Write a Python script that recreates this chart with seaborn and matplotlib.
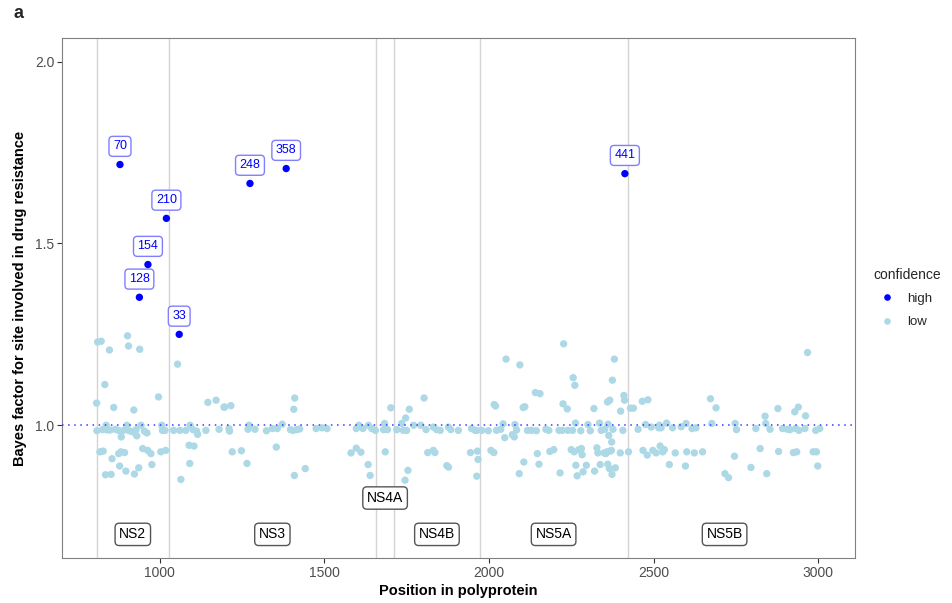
import matplotlib
matplotlib.use("Agg")
import matplotlib.pyplot as plt
import seaborn as sns
import pandas as pd

# ---------------- data ----------------
region_names = ["NS2", "NS3", "NS4A", "NS4B", "NS5A", "NS5B"]
region_start = [810, 1027, 1658, 1712, 1973, 2421]
region_end = [1026, 1657, 1711, 1972, 2420, 3011]
region_label_y = [0.7, 0.7, 0.8, 0.7, 0.7, 0.7]

high_pos = [879, 938, 964, 1020, 1059, 1274, 1384, 2413]
high_bf = [1.717, 1.352, 1.442, 1.569, 1.250, 1.665, 1.706, 1.692]
high_labels = ["70", "128", "154", "210", "33", "248", "358", "441"]

low_pos_ns2_ns3 = [
    811, 822, 902, 847, 905, 939, 1054, 833, 808, 860, 921, 996, 1146, 1171, 1195, 1197, 1216,
    837, 900, 943, 1006, 1092, 1271, 1372,
    809, 826, 840, 849, 865, 874, 885, 895, 907, 917, 928, 953, 961, 1008, 1016, 1042, 1061,
    1079, 1101, 1112, 1140, 1180, 1210, 1212, 1268, 1289, 1324, 1342, 1357,
    883, 930, 1115,
    818, 828, 875, 882, 893, 948, 963, 973, 1003, 1018, 1089, 1104, 1220, 1248, 1354,
    855, 878, 897, 936, 923, 976, 835, 852, 1091, 1265, 1064,
]
low_bf_ns2_ns3 = [
    1.229, 1.231, 1.246, 1.207, 1.218, 1.209, 1.168, 1.112, 1.061, 1.049, 1.042, 1.078, 1.063, 1.069, 1.050, 1.050, 1.054,
    1.000, 1.000, 1.000, 1.000, 1.000, 1.000, 1.003,
    0.985, 0.988, 0.987, 0.987, 0.989, 0.986, 0.984, 0.988, 0.985, 0.982, 0.988, 0.984, 0.979, 0.986, 0.986, 0.986, 0.986,
    0.986, 0.988, 0.984, 0.986, 0.989, 0.991, 0.984, 0.989, 0.989, 0.985, 0.991, 0.991,
    0.968, 0.971, 0.975,
    0.927, 0.929, 0.922, 0.927, 0.925, 0.936, 0.931, 0.922, 0.927, 0.931, 0.945, 0.943, 0.927, 0.930, 0.940,
    0.908, 0.888, 0.874, 0.883, 0.866, 0.892, 0.864, 0.865, 0.895, 0.895, 0.851,
]

low_pos_ns3_ns4 = [
    1410, 1407, 1397, 1405, 1417, 1425, 1475, 1493, 1508, 1597, 1605, 1617, 1634, 1644, 1655,
    1683, 1680, 1692, 1702, 1720, 1735, 1740, 1747, 1758, 1750, 1771, 1793, 1809, 1803, 1831,
    1841, 1852, 1877, 1884, 1907, 1947, 1958,
    1581, 1597, 1611, 1685, 1814, 1831, 1836, 1944, 1965, 1967, 1633, 1639, 1872, 1877, 1754,
    1745, 1442, 1409, 1963,
]
low_bf_ns3_ns4 = [
    1.075, 1.044, 0.988, 0.986, 0.988, 0.990, 0.991, 0.993, 0.991, 0.991, 1.000, 0.991, 1.000, 0.991, 0.986,
    1.005, 0.988, 0.988, 1.048, 0.988, 1.005, 0.986, 1.020, 1.044, 0.986, 1.000, 1.000, 0.988, 1.075, 0.995,
    0.988, 0.986, 0.995, 0.988, 0.986, 0.991, 0.986,
    0.924, 0.937, 0.926, 0.927, 0.925, 0.931, 0.925, 0.925, 0.929, 0.906, 0.892, 0.862, 0.889, 0.885, 0.876,
    0.849, 0.881, 0.862, 0.860,
]

low_pos_ns5a = [
    2227, 2052, 2094, 2381, 2256, 2261, 2375, 2141, 2155, 2016, 2020, 2104, 2109, 2225, 2238,
    2319, 2360, 2367, 2410, 2412, 2400, 2430, 2439, 2466, 2483,
    2043, 2079, 2263, 2301, 2336, 2362, 2476, 2518,
    1963, 1978, 1998, 2023, 2036, 2084, 2117, 2129, 2144, 2173, 2182, 2213, 2223, 2240, 2254,
    2279, 2308, 2341, 2352, 2377, 2407, 2453, 2493, 2516,
    2048, 2071, 2077, 2364, 2373,
    2006, 2015, 2147, 2185, 2197, 2250, 2259, 2273, 2281, 2283, 2328, 2331, 2350, 2358, 2369,
    2372, 2355, 2399, 2424, 2468, 2481, 2498, 2508, 2520, 2528,
    2106, 2152, 2264, 2296, 2338, 2361, 2384, 2366,
    2092, 2216, 2268, 2286, 2321, 2374,
]
low_bf_ns5a = [
    1.224, 1.182, 1.166, 1.182, 1.131, 1.110, 1.124, 1.090, 1.087, 1.057, 1.053, 1.049, 1.051, 1.059, 1.045,
    1.046, 1.064, 1.069, 1.082, 1.069, 1.039, 1.047, 1.047, 1.066, 1.070,
    1.004, 1.002, 1.006, 1.002, 1.006, 1.003, 1.002, 1.000,
    0.986, 0.986, 0.985, 0.986, 0.989, 0.987, 0.986, 0.986, 0.985, 0.989, 0.986, 0.986, 0.986, 0.986, 0.986,
    0.985, 0.985, 0.986, 0.989, 0.989, 0.986, 0.989, 0.995, 0.993,
    0.966, 0.974, 0.968, 0.972, 0.954,
    0.931, 0.925, 0.922, 0.928, 0.933, 0.933, 0.927, 0.933, 0.936, 0.919, 0.938, 0.924, 0.924, 0.927, 0.929,
    0.931, 0.922, 0.924, 0.927, 0.931, 0.918, 0.931, 0.924, 0.943, 0.927,
    0.899, 0.893, 0.890, 0.890, 0.892, 0.893, 0.883, 0.881,
    0.867, 0.869, 0.861, 0.872, 0.874, 0.865,
]

low_pos_ns5b = [
    2968, 2673, 2690, 2839, 2878, 2929, 2940, 2962,
    2540, 2599, 2677, 2748, 2841,
    2523, 2558, 2584, 2617, 2629, 2752, 2811, 2854, 2892, 2907, 2915, 2932, 2942, 2960, 2993, 3005,
    2533, 2566, 2601, 2624, 2649, 2824, 2880, 2925, 2935, 2985, 2995,
    2548, 2597, 2746, 2796, 2999, 2717, 2728, 2844,
]
low_bf_ns5b = [
    1.200, 1.073, 1.048, 1.025, 1.046, 1.037, 1.050, 1.026,
    1.006, 1.005, 1.005, 1.005, 1.005,
    0.993, 0.993, 0.996, 0.991, 0.993, 0.988, 0.991, 0.989, 0.991, 0.989, 0.988, 0.991, 0.986, 0.991, 0.986, 0.991,
    0.933, 0.924, 0.927, 0.924, 0.927, 0.936, 0.928, 0.925, 0.927, 0.927, 0.927,
    0.892, 0.888, 0.915, 0.884, 0.888, 0.867, 0.856, 0.867,
]

low_pos = low_pos_ns2_ns3 + low_pos_ns3_ns4 + low_pos_ns5a + low_pos_ns5b
low_bf = low_bf_ns2_ns3 + low_bf_ns3_ns4 + low_bf_ns5a + low_bf_ns5b

df = pd.DataFrame({
    "position": low_pos + high_pos,
    "bf": low_bf + high_bf,
    "confidence": ["low"] * len(low_pos) + ["high"] * len(high_pos),
})

# ---------------- plot ----------------
sns.set_theme(style="white")
plt.rcParams["font.family"] = ["Liberation Sans", "DejaVu Sans"]

fig = plt.figure(figsize=(9.53, 6.03), dpi=100)
ax = fig.add_axes([0.0651, 0.0746, 0.832, 0.8624])

for s in region_start:
    ax.axvline(s, color="#d4d4d4", lw=1.0, zorder=1)

sns.scatterplot(data=df, x="position", y="bf", hue="confidence",
                hue_order=["high", "low"],
                palette={"high": "#0000FF", "low": "#ADD8E6"},
                s=28, linewidth=0, ax=ax, zorder=3)

ax.axhline(1.0, color="#3a3aff", lw=1.1, ls=(0, (1, 3)), zorder=4)

for x, y, lab in zip(high_pos, high_bf, high_labels):
    ax.text(x, y + 0.05, lab, ha="center", va="center", color="#0000FF", fontsize=9, zorder=5,
            bbox=dict(boxstyle="round,pad=0.32,rounding_size=0.3", fc="white", ec="#7f7fff", lw=1.0))

for name, s, e, y in zip(region_names, region_start, region_end, region_label_y):
    ax.text((s + e) / 2, y, name, ha="center", va="center", color="black", fontsize=10, zorder=5,
            bbox=dict(boxstyle="round,pad=0.3,rounding_size=0.3", fc="white", ec="#555555", lw=1.0))

ax.set_xlim(703, 3112)
ax.set_ylim(0.635, 2.065)
ax.set_xticks([1000, 1500, 2000, 2500, 3000])
ax.set_yticks([1.0, 1.5, 2.0])
ax.set_yticklabels(["1.0", "1.5", "2.0"])

for sp in ax.spines.values():
    sp.set_color("#808080")
    sp.set_linewidth(0.8)

ax.tick_params(axis="both", which="major", direction="out", length=3.5, width=0.8,
               color="#333333", labelcolor="#4d4d4d", labelsize=10, bottom=True, left=True, pad=2)

ax.set_xlabel("Position in polyprotein", fontweight="bold", fontsize=10.5, labelpad=3, color="black")
ax.set_ylabel("Bayes factor for site involved in drug resistance", fontweight="bold", fontsize=10.5,
              labelpad=6, color="black")

sns.move_legend(ax, "center left", bbox_to_anchor=(1.012, 0.5), frameon=False, title="confidence",
                fontsize=9.5, title_fontsize=10, labelspacing=0.85, handletextpad=0.5,
                markerscale=0.9, borderpad=0.2)
leg = ax.get_legend()
leg._legend_box.align = "left"

fig.text(14 / 953, 1 - 13 / 603, "a", fontweight="bold", fontsize=13, va="center", ha="left")

fig.savefig("out.png", dpi=100)
